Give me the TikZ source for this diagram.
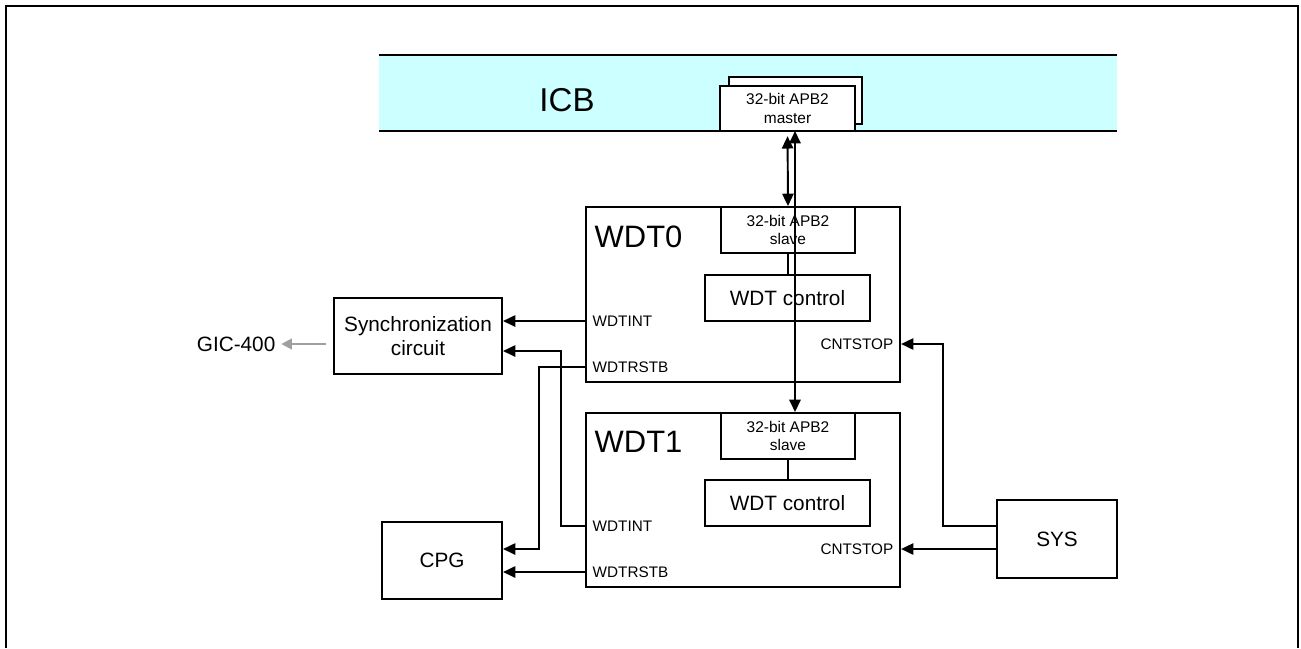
\documentclass[tikz,border=0pt]{standalone}
\usepackage{fontspec}
\setmainfont{Liberation Sans}
\usetikzlibrary{arrows.meta,calc}
\definecolor{icbcyan}{HTML}{CCFFFF}
\definecolor{gicgray}{HTML}{A0A0A0}
\tikzset{
  box/.style={draw=black, line width=0.55pt, fill=white, inner sep=0pt, align=center, font=\fontsize{5.9}{7}\selectfont},
  smallbox/.style={box, font=\fontsize{4.4}{5.2}\selectfont},
  big/.style={inner sep=0pt, font=\fontsize{8.8}{10}\selectfont},
  sig/.style={inner sep=0pt, font=\fontsize{4.35}{5}\selectfont},
  arr/.style={line width=0.55pt, -{Triangle[length=3.5pt,width=3.2pt]}},
  dbl/.style={line width=0.55pt, {Triangle[length=3.5pt,width=3.2pt]}-{Triangle[length=3.5pt,width=3.2pt]}},
  link/.style={line width=0.55pt},
  grayarr/.style={line width=0.6pt, draw=gicgray, -{Triangle[length=3pt,width=3pt]}}
}
\begin{document}
\begin{tikzpicture}[x=0.01cm,y=-0.01cm]
\useasboundingbox (0,0) rectangle (1301,648);
% outer frame
\draw[line width=0.8pt] (6,648) -- (6,6) -- (1298,6) -- (1298,648);
% ICB band
\fill[icbcyan] (379,55) rectangle (1117,131);
\draw[line width=0.6pt] (379,55) -- (1117,55);
\draw[line width=0.6pt] (379,131) -- (1117,131);
\node[big, font=\fontsize{9.4}{11}\selectfont] (icb) at (567,100) {ICB};
\node[smallbox, minimum width=1.33cm, minimum height=0.47cm] (mback) at (795.5,100.5) {};
\node[smallbox, minimum width=1.35cm, minimum height=0.45cm] (master) at (787.5,108.5) {32-bit APB2\\master};
% WDT0
\node[box, minimum width=3.14cm, minimum height=1.75cm] (wdt0) at (743,294.5) {};
\node[big, anchor=west] (wdt0lbl) at (594,237) {WDT0};
\node[smallbox, minimum width=1.34cm, minimum height=0.46cm] (slave0) at (788,230) {32-bit APB2\\slave};
\node[box, minimum width=1.65cm, minimum height=0.46cm] (ctrl0) at (787.5,298) {WDT control};
\node[sig, anchor=west] (wint0) at (592,321) {WDTINT};
\node[sig, anchor=west] (wrst0) at (592,367) {WDTRSTB};
\node[sig, anchor=east] (cs0) at (894,344) {CNTSTOP};
% WDT1
\node[box, minimum width=3.14cm, minimum height=1.74cm] (wdt1) at (743,500) {};
\node[big, anchor=west] (wdt1lbl) at (594,442) {WDT1};
\node[smallbox, minimum width=1.34cm, minimum height=0.46cm] (slave1) at (788,436) {32-bit APB2\\slave};
\node[box, minimum width=1.65cm, minimum height=0.46cm] (ctrl1) at (787.5,503) {WDT control};
\node[sig, anchor=west] (wint1) at (592,526) {WDTINT};
\node[sig, anchor=west] (wrst1) at (592,572) {WDTRSTB};
\node[sig, anchor=east] (cs1) at (894,549) {CNTSTOP};
% other blocks
\node[box, minimum width=1.68cm, minimum height=0.76cm] (sync) at (418,336) {Synchronization\\circuit};
\node[box, minimum width=1.2cm, minimum height=0.77cm] (cpg) at (442,560.5) {CPG};
\node[box, minimum width=1.2cm, minimum height=0.78cm] (sys) at (1057,539) {SYS};
\node[inner sep=0pt, anchor=east, font=\fontsize{5.9}{7}\selectfont] (gic) at (276,344) {GIC-400};
% coordinates
\coordinate (busA) at (795,131);
\coordinate (c1) at (539,549);
\coordinate (c2) at (561,351);
\coordinate (c3) at (943,344);
\coordinate (c4) at (943,526);
% internal links
\draw[link] (slave0.south) -- (slave0.south |- ctrl0.north);
\draw[link] (slave1.south) -- (slave1.south |- ctrl1.north);
% bus arrows
\draw[dbl, shorten <=1.2pt] (master.south) -- (slave0.north);
\draw[dbl] (busA) -- (busA |- slave1.north);
% signal arrows
\draw[arr] (wdt0.west |- wint0) -- (sync.east |- wint0);
\draw[arr] (wdt0.west |- wrst0) -| (c1) -- (cpg.east |- c1);
\draw[arr] (wdt1.west |- wint1) -| (c2) -- (sync.east |- c2);
\draw[arr] (wdt1.west |- wrst1) -- (cpg.east |- wrst1);
\draw[arr] (sys.west |- c4) -- (c4) -- (c3) -- (wdt0.east |- c3);
\draw[arr] (sys.west |- cs1) -- (wdt1.east |- cs1);
\draw[grayarr, shorten <=2pt, shorten >=1.5pt] (sync.west |- gic) -- (gic.east);
\end{tikzpicture}
\end{document}
